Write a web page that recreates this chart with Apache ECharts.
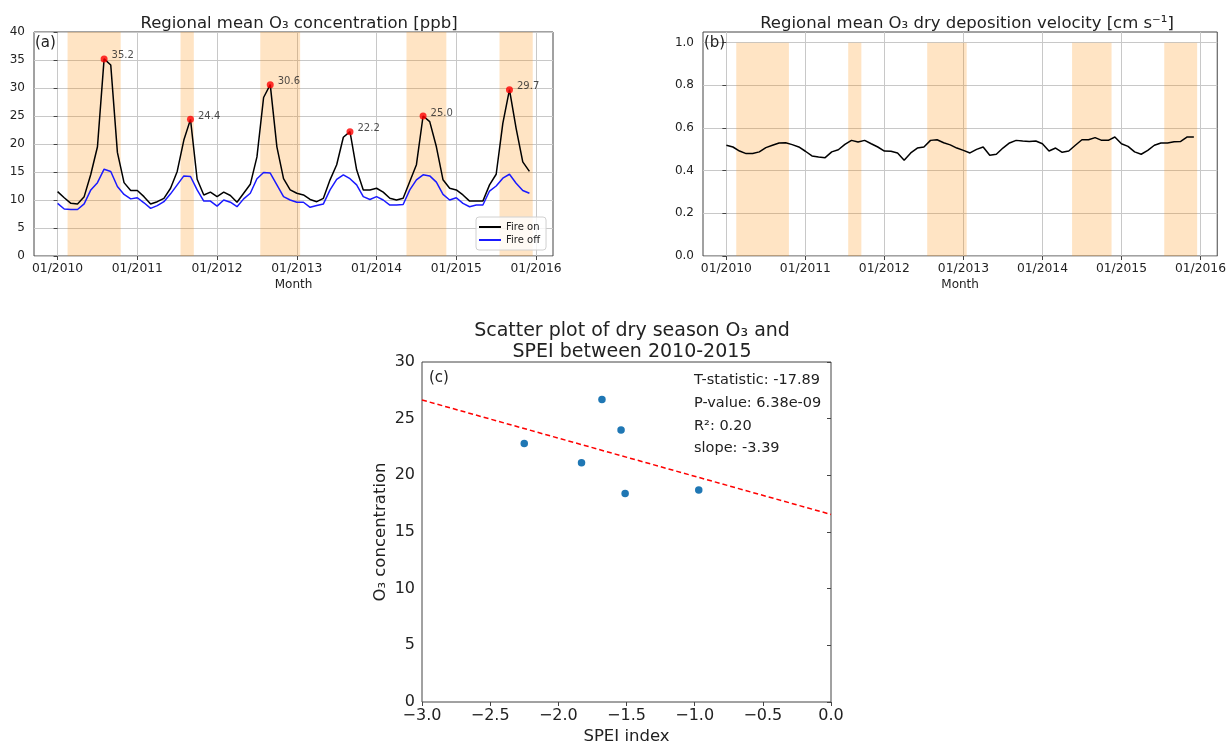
<!DOCTYPE html>
<html>
<head>
<meta charset="utf-8">
<script src="https://cdn.jsdelivr.net/npm/echarts@6/dist/echarts.min.js"></script>
<style>
html, body { margin: 0; padding: 0; background: #fff; }
#chart { width: 1229px; height: 746px; }
</style>
</head>
<body>
<div id="chart"></div>
<script>
// monthly regional means, Jan 2010 .. Dec 2015 (index 0..71)
var fireOn = [
    11.5, 10.4, 9.4, 9.3, 10.6, 14.6, 19.5, 35.2, 34.1, 18.5, 13.1, 11.7,
    11.7, 10.6, 9.3, 9.7, 10.3, 12.1, 15.1, 20.7, 24.4, 13.7, 10.9, 11.4,
    10.6, 11.4, 10.8, 9.6, 11.2, 12.8, 17.7, 28.3, 30.6, 19.5, 13.8, 11.8,
    11.2, 10.9, 10.1, 9.7, 10.3, 13.6, 16.3, 21.2, 22.2, 15.4, 11.8, 11.8,
    12.1, 11.4, 10.3, 10.0, 10.3, 13.3, 16.3, 25.0, 24.0, 19.5, 13.6, 12.1,
    11.8, 10.9, 9.8, 9.8, 9.8, 12.7, 14.6, 23.7, 29.7, 22.8, 16.8, 15.1
];
var fireOff = [
    9.4, 8.4, 8.3, 8.3, 9.3, 11.8, 13.1, 15.5, 15.1, 12.4, 11.0, 10.2,
    10.4, 9.5, 8.5, 9.0, 9.7, 11.1, 12.7, 14.3, 14.2, 11.8, 9.8, 9.8,
    8.9, 10.0, 9.6, 8.8, 10.2, 11.2, 13.8, 14.9, 14.8, 12.7, 10.6, 10.0,
    9.6, 9.6, 8.7, 9.0, 9.3, 11.8, 13.7, 14.5, 13.8, 12.7, 10.6, 10.1,
    10.6, 10.0, 9.1, 9.1, 9.2, 11.8, 13.6, 14.5, 14.3, 13.2, 11.0, 10.0,
    10.4, 9.4, 8.8, 9.1, 9.1, 11.6, 12.5, 13.9, 14.6, 13.0, 11.7, 11.2
];
var depVel = [
    0.519, 0.511, 0.492, 0.480, 0.480, 0.488, 0.508, 0.519, 0.530, 0.531, 0.522, 0.511,
    0.491, 0.469, 0.464, 0.461, 0.488, 0.498, 0.523, 0.542, 0.534, 0.542, 0.526, 0.511,
    0.492, 0.491, 0.483, 0.449, 0.483, 0.506, 0.511, 0.542, 0.545, 0.531, 0.521, 0.506,
    0.495, 0.483, 0.500, 0.511, 0.472, 0.477, 0.506, 0.530, 0.542, 0.539, 0.537, 0.539,
    0.526, 0.492, 0.506, 0.486, 0.492, 0.519, 0.545, 0.545, 0.555, 0.542, 0.542, 0.558,
    0.526, 0.514, 0.488, 0.477, 0.495, 0.519, 0.530, 0.530, 0.536, 0.537, 0.558, 0.558
];
var peakMonths = [7, 20, 32, 44, 55, 68];
var yearTicks = [0, 12, 24, 36, 48, 60, 72];
var yearLabels = ['01/2010', '01/2011', '01/2012', '01/2013', '01/2014', '01/2015', '01/2016'];
var velTicks = [0, 0.2, 0.4, 0.6, 0.8, 1.0];
// dry season spans (month index)
var dryStart = [1.5, 18.5, 30.5, 52.5, 66.5];
var dryEnd = [9.5, 20.5, 36.5, 58.5, 71.5];

// panel (c)
var spei = [-2.25, -1.83, -1.68, -1.54, -1.51, -0.97];
var dryO3 = [22.8, 21.1, 26.7, 24.0, 18.4, 18.7];
var fitX = [-3, 0];
var fitY = [26.65, 16.55];
var statLines = ['T-statistic: -17.89', 'P-value: 6.38e-09', 'R\u00b2: 0.20', 'slope: -3.39'];

var FONT = 'DejaVu Sans';
var spanColor = 'rgba(255, 140, 0, 0.23)';

function pairs(arr) {
    return arr.map(function (v, i) { return [i, v]; });
}

function spans(top) {
    return dryStart.map(function (s, k) {
        return [{ xAxis: s, yAxis: 0 }, { xAxis: dryEnd[k], yAxis: top }];
    });
}

function monthAxis(grid) {
    return {
        type: 'value', gridIndex: grid, min: -3.55, max: 74.55,
        name: 'Month', nameLocation: 'middle', nameGap: 23,
        nameTextStyle: { fontFamily: FONT, fontSize: 12, color: '#222' },
        axisLine: { show: false },
        axisTick: { length: 4, customValues: yearTicks, lineStyle: { color: '#444' } },
        axisLabel: {
            customValues: yearTicks, margin: 7, fontFamily: FONT, fontSize: 12.3, color: '#222',
            formatter: function (v) { return yearLabels[yearTicks.indexOf(v)]; }
        },
        splitLine: { show: true, lineStyle: { color: '#c8c8c8', width: 1 } }
    };
}

var chart = echarts.init(document.getElementById('chart'));

var gridBox = { show: true, borderColor: '#444', borderWidth: 1, backgroundColor: 'transparent' };

var option = {
    animation: false,
    title: [
        { text: 'Regional mean O\u2083 concentration [ppb]', left: 294, top: 10, textAlign: 'center',
          textStyle: { fontFamily: FONT, fontSize: 16.5, fontWeight: 'normal', color: '#222' } },
        { text: 'Regional mean O\u2083 dry deposition velocity [cm s\u207b\u00b9]', left: 962, top: 10, textAlign: 'center',
          textStyle: { fontFamily: FONT, fontSize: 16.5, fontWeight: 'normal', color: '#222' } },
        { text: 'Scatter plot of dry season O\u2083 and\nSPEI between 2010-2015', left: 627, top: 316, textAlign: 'center',
          textStyle: { fontFamily: FONT, fontSize: 19, lineHeight: 21, fontWeight: 'normal', color: '#222' } },
        { text: '(a)', left: 35, top: 36, padding: 0,
          textStyle: { fontFamily: FONT, fontSize: 15, fontWeight: 'normal', color: '#222' } },
        { text: '(b)', left: 704, top: 36, padding: 0,
          textStyle: { fontFamily: FONT, fontSize: 15, fontWeight: 'normal', color: '#222' } },
        { text: '(c)', left: 429, top: 371, padding: 0,
          textStyle: { fontFamily: FONT, fontSize: 15, fontWeight: 'normal', color: '#222' } },
        { text: statLines.join('\n'), left: 694, top: 369, padding: 0,
          textStyle: { fontFamily: FONT, fontSize: 14.5, lineHeight: 22.7, fontWeight: 'normal', color: '#222' } }
    ],
    legend: {
        data: ['Fire on', 'Fire off'],
        orient: 'vertical', left: 476, top: 217,
        icon: 'rect', itemWidth: 22, itemHeight: 2, itemGap: 3,
        padding: [5, 6, 5, 3],
        borderColor: '#d0d0d0', borderWidth: 1, borderRadius: 3,
        backgroundColor: 'rgba(255,255,255,0.8)',
        selectedMode: false,
        textStyle: { fontFamily: FONT, fontSize: 10, color: '#222' }
    },
    grid: [
        Object.assign({ left: 34, top: 32, width: 519, height: 224 }, gridBox),
        Object.assign({ left: 703, top: 32, width: 519, height: 224 }, gridBox),
        Object.assign({ left: 422, top: 362, width: 409, height: 343 }, gridBox)
    ],
    xAxis: [
        monthAxis(0),
        monthAxis(1),
        {
            type: 'value', gridIndex: 2, min: -3, max: 0, interval: 0.5,
            name: 'SPEI index', nameLocation: 'middle', nameGap: 26,
            nameTextStyle: { fontFamily: FONT, fontSize: 16.5, color: '#222' },
            axisLine: { show: false },
            axisTick: { length: 4, lineStyle: { color: '#444' } },
            axisLabel: {
                margin: 6, fontFamily: FONT, fontSize: 16, color: '#222',
                formatter: function (v) { return v.toFixed(1).replace('-', '\u2212'); }
            },
            splitLine: { show: false }
        }
    ],
    yAxis: [
        {
            type: 'value', gridIndex: 0, min: 0, max: 40, interval: 5,
            axisLine: { show: false },
            axisTick: { length: 4, lineStyle: { color: '#444' } },
            axisLabel: { margin: 9, fontFamily: FONT, fontSize: 12, color: '#222' },
            splitLine: { show: true, lineStyle: { color: '#c8c8c8', width: 1 } }
        },
        {
            type: 'value', gridIndex: 1, min: 0, max: 1.05,
            axisLine: { show: false },
            axisTick: { length: 4, customValues: velTicks, lineStyle: { color: '#444' } },
            axisLabel: {
                customValues: velTicks, margin: 9, fontFamily: FONT, fontSize: 12, color: '#222',
                formatter: function (v) { return v.toFixed(1); }
            },
            splitLine: { show: true, lineStyle: { color: '#c8c8c8', width: 1 } }
        },
        {
            type: 'value', gridIndex: 2, min: 0, max: 30, interval: 5,
            name: 'O\u2083 concentration', nameLocation: 'middle', nameGap: 33,
            nameTextStyle: { fontFamily: FONT, fontSize: 16.5, color: '#222' },
            axisLine: { show: false },
            axisTick: { length: 4, lineStyle: { color: '#444' } },
            axisLabel: { margin: 7, fontFamily: FONT, fontSize: 16, color: '#222' },
            splitLine: { show: false }
        }
    ],
    series: [
        {
            name: 'Fire on', type: 'line', xAxisIndex: 0, yAxisIndex: 0,
            data: pairs(fireOn), symbol: 'none', color: '#000',
            lineStyle: { width: 1.5, color: '#000' },
            markArea: { silent: true, itemStyle: { color: spanColor }, data: spans(40) }
        },
        {
            name: 'Fire off', type: 'line', xAxisIndex: 0, yAxisIndex: 0,
            data: pairs(fireOff), symbol: 'none', color: '#1a1aff',
            lineStyle: { width: 1.5, color: '#1a1aff' }
        },
        {
            name: 'peaks', type: 'scatter', xAxisIndex: 0, yAxisIndex: 0, z: 5,
            data: peakMonths.map(function (m) { return [m, fireOn[m]]; }),
            symbolSize: 7, itemStyle: { color: '#ff0000' },
            label: {
                show: true, position: 'right', distance: 4, offset: [0, -3],
                fontFamily: FONT, fontSize: 10, color: '#222',
                formatter: function (p) { return p.value[1].toFixed(1); }
            }
        },
        {
            name: 'Vd', type: 'line', xAxisIndex: 1, yAxisIndex: 1,
            data: pairs(depVel), symbol: 'none',
            lineStyle: { width: 1.5, color: '#000' },
            markArea: { silent: true, itemStyle: { color: spanColor }, data: spans(1) }
        },
        {
            name: 'dry season', type: 'scatter', xAxisIndex: 2, yAxisIndex: 2, z: 5,
            data: spei.map(function (x, i) { return [x, dryO3[i]]; }),
            symbolSize: 7.5, itemStyle: { color: '#1f77b4', opacity: 1 }
        },
        {
            name: 'fit', type: 'line', xAxisIndex: 2, yAxisIndex: 2,
            data: fitX.map(function (x, i) { return [x, fitY[i]]; }),
            symbol: 'none', lineStyle: { width: 1.5, color: '#ff0000', type: [5, 3] }
        }
    ]
};

chart.setOption(option);
</script>
</body>
</html>
